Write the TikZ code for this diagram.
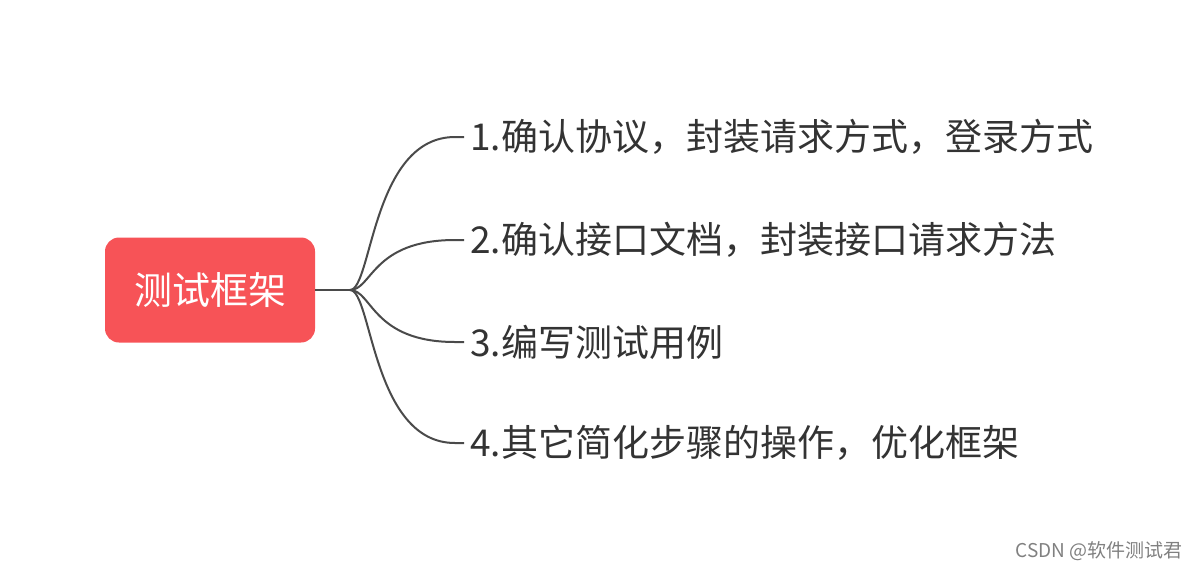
\documentclass[tikz,border=0pt]{standalone}
\usepackage{fontspec}
\setmainfont{Noto Sans CJK SC}
\definecolor{rootred}{HTML}{F75357}
\definecolor{linegray}{HTML}{4A4A4A}
\definecolor{txt}{HTML}{333333}
\begin{document}
\begin{tikzpicture}[x=1pt,y=-1pt,
  rootbox/.style={fill=rootred,rounded corners=14pt,minimum width=210pt,minimum height=105pt,text=white,font=\fontsize{38}{44}\selectfont},
  leaf/.style={anchor=west,text=txt,font=\fontsize{37}{44}\selectfont,inner sep=0pt},
  conn/.style={draw=linegray,line width=2pt}]
\useasboundingbox (0,0) rectangle (1200,571);
\node[rootbox] (root) at (210,290) {测试框架};
\coordinate (j) at (350,290);
\node[leaf] (a) at (470,137) {1.确认协议，封装请求方式，登录方式};
\node[leaf] (b) at (470,240) {2.确认接口文档，封装接口请求方法};
\node[leaf] (c) at (470,342) {3.编写测试用例};
\node[leaf] (d) at (470,443) {4.其它简化步骤的操作，优化框架};
\draw[conn] (root.east) -- (j);
\foreach \n/\y in {a/137,b/240,c/342,d/443}{
  \draw[conn] (j) .. controls (372,290) and (372,\y) .. (455,\y) -- ([xshift=-6pt]\n.west);
}
\node[anchor=east,text=gray,font=\fontsize{19}{22}\selectfont] (wm) at (1186,551) {CSDN @软件测试君};
\end{tikzpicture}
\end{document}
